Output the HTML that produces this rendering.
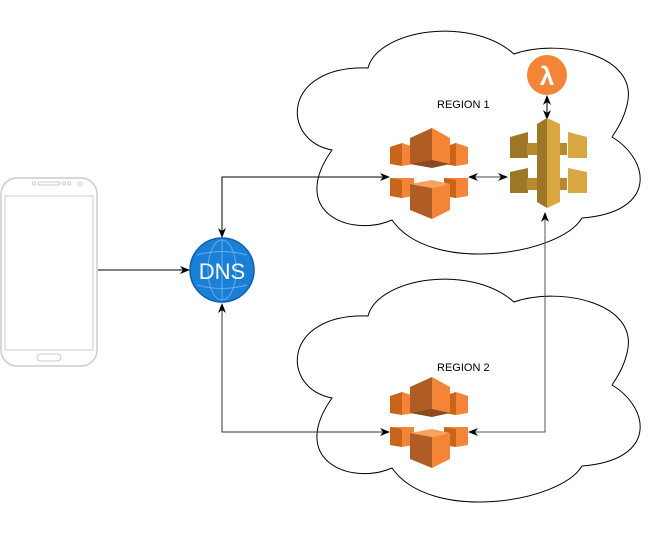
<!DOCTYPE html>
<html><head><style>
html,body{margin:0;padding:0;background:#fff;width:661px;height:536px;overflow:hidden}
text{font-family:"Liberation Sans",sans-serif}
</style></head><body>
<svg width="661" height="536" viewBox="0 0 661 536" xmlns="http://www.w3.org/2000/svg">
<defs>
<marker id="ar" markerWidth="10" markerHeight="10" refX="9" refY="5" orient="auto-start-reverse" markerUnits="userSpaceOnUse">
<path d="M0,1 L10,5 L0,9 L3,5 Z" fill="#000"/></marker>
<g id="cf">
<!-- top row -->
<polygon points="0,19 12,15 12,38 0,36" fill="#c8651b"/>
<polygon points="12,15 24,19 24,36 12,38" fill="#f58536"/>
<polygon points="54,19 66,15 78,19 78,36 66,38 54,36" fill="#f58536"/>
<polygon points="54,19 66,15 66,38 54,36" fill="#c8651b"/>
<polygon points="20,10 42,0 42,36 20,36" fill="#b05d25"/>
<polygon points="42,0 60,10 60,36 42,36" fill="#f58536"/>
<polygon points="20,36 42,32 60,36 42,40" fill="#8a4a1e"/>
<!-- bottom row -->
<polygon points="0,50 24,50 24,68 12,70 0,68" fill="#f58536"/>
<polygon points="0,50 12,52 12,70 0,68" fill="#c8651b"/>
<polygon points="54,50 78,50 78,68 66,70 54,68" fill="#f58536"/>
<polygon points="54,50 66,52 66,70 54,68" fill="#c8651b"/>
<polygon points="20,56 42,52 60,56 42,60" fill="#f7a25e"/>
<polygon points="20,56 42,60 42,91 20,82" fill="#b05d25"/>
<polygon points="42,60 60,56 60,82 42,91" fill="#f58536"/>
</g>
<path id="cl" d="M368,68 C378,30 470,15 514,54 C560,38 640,55 627,105 C624,118 618,128 612,137 C650,160 658,212 582,218 C560,255 430,275 392,220 C350,238 288,212 332,150 C280,140 282,65 368,68 Z"/>
</defs>
<!-- clouds -->
<use href="#cl" fill="#fff" stroke="#000" stroke-width="1"/>
<use href="#cl" transform="translate(0,248)" fill="#fff" stroke="#000" stroke-width="1"/>
<text x="437" y="108" font-size="11">REGION 1</text>
<text x="437" y="371" font-size="11">REGION 2</text>
<!-- phone -->
<rect x="1" y="178" width="96" height="188" rx="16" fill="#fff" stroke="#ccc" stroke-width="1.5"/>
<rect x="5" y="196" width="88" height="154" fill="#fff" stroke="#ccc" stroke-width="1"/>
<rect x="38" y="182" width="22" height="3" rx="1.5" fill="none" stroke="#ccc"/>
<circle cx="34" cy="183.5" r="1.5" fill="none" stroke="#ccc"/>
<circle cx="64" cy="183.5" r="1.5" fill="none" stroke="#ccc"/>
<circle cx="69" cy="183.5" r="1.5" fill="none" stroke="#ccc"/>
<circle cx="80" cy="184" r="2" fill="none" stroke="#ccc"/>
<rect x="37" y="354" width="24" height="7" rx="3.5" fill="none" stroke="#ccc"/>
<!-- connectors -->
<line x1="98" y1="270" x2="189" y2="270" stroke="#000" marker-end="url(#ar)"/>
<polyline points="389,177 222,177 222,237" fill="none" stroke="#000" marker-start="url(#ar)" marker-end="url(#ar)"/>
<polyline points="389,432 222,432 222,304" fill="none" stroke="#333" marker-start="url(#ar)" marker-end="url(#ar)"/>
<line x1="469" y1="177" x2="507" y2="177" stroke="#444" marker-start="url(#ar)" marker-end="url(#ar)"/>
<line x1="547" y1="96" x2="547" y2="119" stroke="#000" marker-start="url(#ar)" marker-end="url(#ar)"/>
<polyline points="469,432 545,432 545,213" fill="none" stroke="#555" marker-start="url(#ar)" marker-end="url(#ar)"/>
<!-- DNS -->
<circle cx="222" cy="270" r="32" fill="#1a7fd6" stroke="#0d5fb0" stroke-width="1.5"/>
<g stroke="#7fb8ec" stroke-width="1" fill="none" opacity="0.8">
<ellipse cx="222" cy="270" rx="14" ry="30"/>
<line x1="222" y1="240" x2="222" y2="300"/>
<path d="M197,255 Q222,248 247,255 M197,285 Q222,292 247,285"/>
</g>
<text x="222" y="279" font-size="22" fill="#fff" text-anchor="middle">DNS</text>
<!-- CloudFront icons -->
<use href="#cf" transform="translate(390,128)"/>
<use href="#cf" transform="translate(390,377)"/>
<!-- API gateway -->
<g>
<polygon points="510,137 528,132 528,158 510,158" fill="#9d7627"/>
<polygon points="510,172 528,168 528,193 510,193" fill="#9d7627"/>
<polygon points="568,132 587,137 587,158 568,158" fill="#d9a741"/>
<polygon points="568,168 587,172 587,193 568,193" fill="#d9a741"/>
<polygon points="527,143 567,143 567,155 527,155" fill="#b8892d"/>
<polygon points="527,178 567,178 567,190 527,190" fill="#b8892d"/>
<polygon points="537,124 547,118 547,208 537,202" fill="#9d7627"/>
<polygon points="547,118 560,124 560,202 547,208" fill="#d9a741"/>
<polygon points="510,158 540,158 540,166 510,166" fill="#fff" opacity="0"/>
</g>
<!-- Lambda -->
<circle cx="547" cy="75" r="20" fill="#f58536"/>
<text x="547" y="85" font-size="26" fill="#fff" text-anchor="middle" font-weight="bold">λ</text>
</svg>
</body></html>
